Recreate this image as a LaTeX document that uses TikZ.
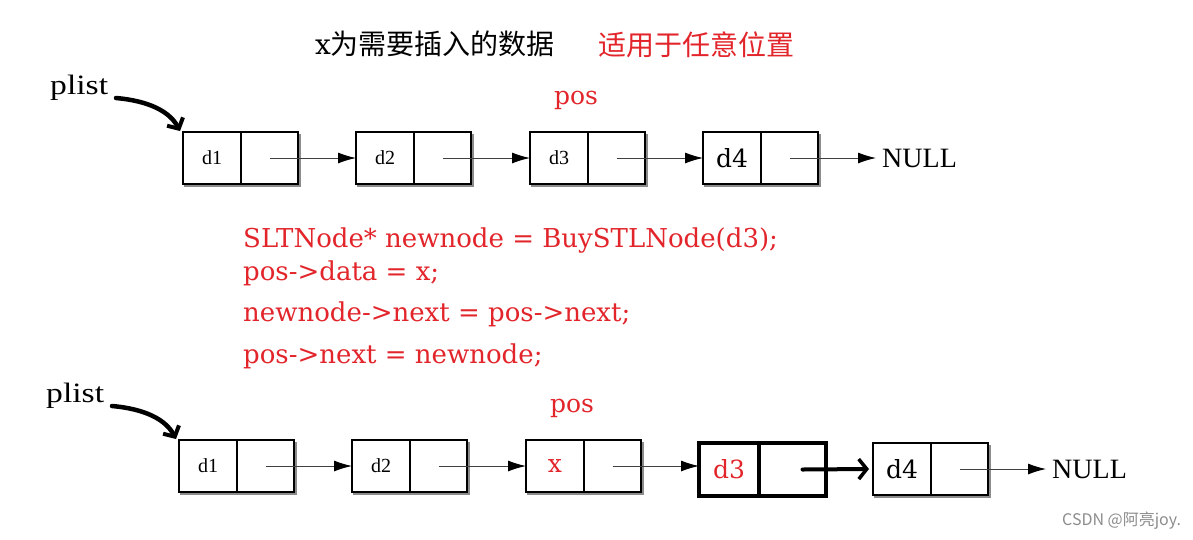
\documentclass[tikz,border=0pt]{standalone}
\usepackage{fontspec}
\setmainfont{DejaVu Serif}
\newfontfamily\cjk{Noto Sans CJK SC}
\newfontfamily\tms{Liberation Serif}
\newfontfamily\tmsw[FakeStretch=1.2]{Liberation Serif}
\usetikzlibrary{arrows.meta}
\definecolor{myred}{HTML}{E2252B}
\begin{document}
\begin{tikzpicture}[x=1pt,y=-1pt,
  cell/.style={draw, line width=1.1pt, minimum height=52pt, inner sep=0pt, outer sep=0pt, anchor=north west},
  dcell/.style={cell, minimum width=58pt},
  pcell/.style={cell, minimum width=57pt},
  tcell/.style={draw, line width=4pt, minimum height=53pt, inner sep=0pt, outer sep=0pt, anchor=north west},
  arr/.style={-{Latex[length=18pt,width=11pt,black]}, line width=1pt, draw=black!75},
  curvearr/.style={-{Straight Barb[length=8pt,width=18pt,line width=4pt]}, line width=4.5pt, line cap=round},
  thickarr/.style={-{Straight Barb[length=8pt,width=20pt,line width=3.5pt]}, line width=4pt, line cap=round},
  shade/.style={draw=black!45, line width=2pt},
  small/.style={font=\tms\fontsize{20}{20}\selectfont},
  code/.style={anchor=base west, text=myred, font=\fontsize{26}{26}\selectfont, inner sep=0pt},
  lbl/.style={font=\fontsize{25}{25}\selectfont},
  big/.style={font=\tms\fontsize{28}{28}\selectfont}
]
\useasboundingbox (0,0) rectangle (1193,539);

% title
\node[anchor=west, inner sep=0pt, font=\fontsize{28}{28}\selectfont] (title1) at (315,44) {x{\cjk 为需要插入的数据}};
\node[anchor=west, inner sep=0pt, text=myred, font=\cjk\fontsize{28}{28}\selectfont] (title2) at (598,45) {适用于任意位置};

% ---------- top row ----------
\node[font=\tmsw\fontsize{28}{28}\selectfont, anchor=base west, inner sep=0pt] (plist1) at (50,94) {plist};
\node[code, anchor=base, font=\fontsize{25}{25}\selectfont] (pos1) at (576,104) {pos};

\node[dcell, small] (a1) at (183,132) {d1};
\node[pcell] (a1p) at (a1.north east) {};
\node[dcell, small] (a2) at (356,132) {d2};
\node[pcell] (a2p) at (a2.north east) {};
\node[dcell, small] (a3) at (530,132) {d3};
\node[pcell] (a3p) at (a3.north east) {};
\node[dcell, lbl] (a4) at (703,132) {d4};
\node[pcell] (a4p) at (a4.north east) {};
\node[big, anchor=west, inner sep=0pt] (null1) at (882,158) {NULL};

\foreach \d/\p in {a1/a1p,a2/a2p,a3/a3p,a4/a4p}{
  \draw[shade] ([shift={(1,1.5)}]\d.south west) -- ([shift={(1.5,1.5)}]\p.south east) -- ([shift={(1.5,2)}]\p.north east);
}
\draw[arr] (a1p.center) -- (a2.west);
\draw[arr] (a2p.center) -- (a3.west);
\draw[arr] (a3p.center) -- (a4.west);
\draw[arr] (a4p.center) -- ([xshift=-6]null1.west);
\draw[curvearr] (116,98) .. controls (150,101) and (170,112) .. ([shift={(-3,-1)}]a1.north west);

% ---------- code ----------
\node[code] (c1) at (243,247) {SLTNode* newnode = BuySTLNode(d3);};
\node[code] (c2) at (243,280) {pos->data = x;};
\node[code] (c3) at (243,321) {newnode->next = pos->next;};
\node[code] (c4) at (243,363) {pos->next = newnode;};

% ---------- bottom row ----------
\node[font=\tmsw\fontsize{28}{28}\selectfont, anchor=base west, inner sep=0pt] (plist2) at (46,402) {plist};
\node[code, anchor=base, font=\fontsize{25}{25}\selectfont] (pos2) at (572,412) {pos};

\node[dcell, small] (b1) at (179,440) {d1};
\node[pcell] (b1p) at (b1.north east) {};
\node[dcell, small] (b2) at (352,440) {d2};
\node[pcell] (b2p) at (b2.north east) {};
\node[dcell, lbl, text=myred] (b3) at (526,440) {x};
\node[pcell] (b3p) at (b3.north east) {};
\node[tcell, minimum width=60pt, lbl, text=myred] (b4) at (699,443) {d3};
\node[tcell, minimum width=67pt] (b4p) at (b4.north east) {};
\node[dcell, lbl] (b5) at (873,443) {d4};
\node[pcell] (b5p) at (b5.north east) {};
\node[big, anchor=west, inner sep=0pt] (null2) at (1052,469) {NULL};

\foreach \d/\p in {b1/b1p,b2/b2p,b3/b3p,b5/b5p}{
  \draw[shade] ([shift={(1,1.5)}]\d.south west) -- ([shift={(1.5,1.5)}]\p.south east) -- ([shift={(1.5,2)}]\p.north east);
}
\draw[line width=4pt] (b4.south east) -- ([yshift=4]b4.south east);
\draw[arr] (b1p.center) -- (b2.west);
\draw[arr] (b2p.center) -- (b3.west);
\draw[arr] (b3p.center) -- (b3p.center -| b4.west);
\draw[thickarr] ([xshift=10]b4p.center) -- ([xshift=-4]b5.west);
\draw[arr] (b5p.center) -- ([xshift=-6]null2.west);
\draw[curvearr] (112,406) .. controls (146,409) and (166,420) .. ([shift={(-3,-1)}]b1.north west);

% watermark
\node[anchor=west, inner sep=0pt, text=black!45, font=\cjk\fontsize{16}{16}\selectfont] (wm) at (1062,521) {CSDN @阿亮joy.};
\end{tikzpicture}
\end{document}
